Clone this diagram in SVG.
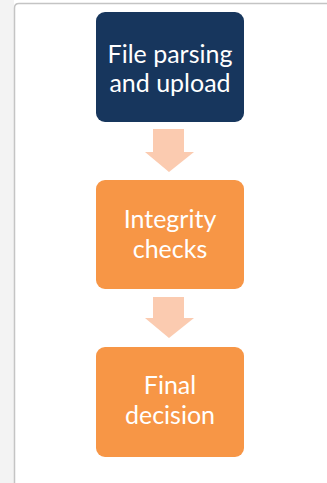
<svg xmlns="http://www.w3.org/2000/svg" width="327" height="483" viewBox="0 0 327 483">
  <style>
    .lbl { font-family: Lato, "Open Sans", sans-serif; font-size: 25px; fill: #ffffff; text-anchor: middle; }
    .navy { fill: #17365d; }
    .orange { fill: #f79646; }
    .arrow { fill: #fbcbb0; }
  </style>
  <rect x="0" y="0" width="327" height="483" fill="#ffffff"/>
  <rect x="0" y="0" width="14" height="483" fill="#f3f3f3"/>
  <path d="M14.5 483 V8 Q14.5 3.5 19 3.5 H327" fill="none" stroke="#c4c4c4" stroke-width="1.5"/>
  <g id="connectors">
    <polygon class="arrow" points="153,129 184,129 184,152 194,152 169,172 145,152 153,152"/>
    <polygon class="arrow" points="153,297 184,297 184,318 194,318 169,338 145,318 153,318"/>
  </g>
  <g id="node-file-parsing">
    <rect class="navy" x="96" y="12" width="148" height="110" rx="9"/>
    <text class="lbl" x="170" y="63">File parsing</text>
    <text class="lbl" x="170" y="92">and upload</text>
  </g>
  <g id="node-integrity">
    <rect class="orange" x="96" y="180" width="148" height="109" rx="9"/>
    <text class="lbl" x="170" y="228">Integrity</text>
    <text class="lbl" x="170" y="258">checks</text>
  </g>
  <g id="node-final">
    <rect class="orange" x="96" y="347" width="148" height="110" rx="9"/>
    <text class="lbl" x="170" y="394">Final</text>
    <text class="lbl" x="170" y="424">decision</text>
  </g>
</svg>
